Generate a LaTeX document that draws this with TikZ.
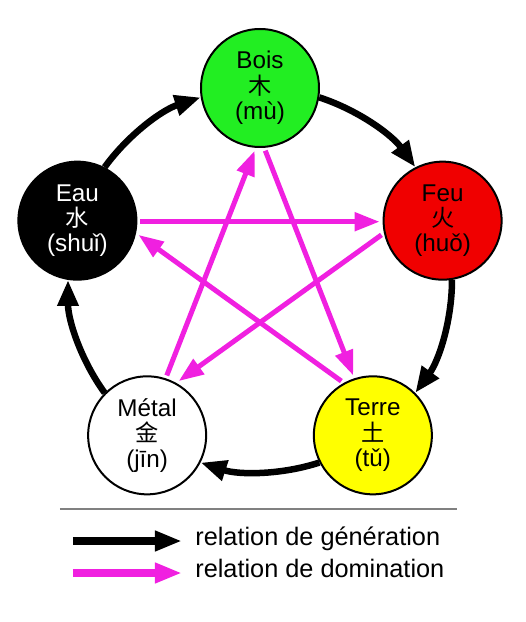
\documentclass[tikz,border=0pt]{standalone}
\usepackage{fontspec}
\setmainfont{Liberation Sans}
\newfontfamily\cjk{Noto Sans CJK SC}
\usetikzlibrary{arrows.meta}
\definecolor{colbois}{HTML}{22EE22}
\definecolor{colfeu}{HTML}{F00000}
\definecolor{colterre}{HTML}{FFFF00}
\definecolor{coldom}{HTML}{F020E0}
\newcommand{\hanzi}[1]{{\cjk\fontsize{13.2pt}{14.5pt}\selectfont #1}}

\begin{document}
\begin{tikzpicture}[
  font=\fontsize{13.8pt}{14.5pt}\selectfont,
  elem/.style={draw,circle,line width=0.04cm,minimum size=2.36cm,inner sep=0pt,align=center},
  gen/.style={line width=0.13cm,-{Triangle[length=0.52cm,width=0.4cm]}},
  dom/.style={coldom,line width=0.1cm,-{Triangle[length=0.5cm,width=0.36cm]},
    shorten <=0.06cm,shorten >=0.06cm},
  legtxt/.style={anchor=west,inner sep=0pt,text height=0.72em,text depth=0.21em,
    font=\fontsize{14.4pt}{16pt}\selectfont},
]
  \useasboundingbox (-5.20,-6.84) rectangle (5.32,5.60);
  % ---- les cinq elements ----
  \node[elem,fill=colbois]        (bois)  at (90:3.84)   {Bois\\\hanzi{木}\\(mù)};
  \node[elem,fill=colfeu]         (feu)   at (18:3.84)   {Feu\\\hanzi{火}\\(huǒ)};
  \node[elem,fill=colterre]       (terre) at (-54:3.84)  {Terre\\\hanzi{土}\\(tǔ)};
  \node[elem,fill=white]          (metal) at (-126:3.84) {Métal\\\hanzi{金}\\(jīn)};
  \node[elem,fill=black,text=white] (eau) at (162:3.84)  {Eau\\\hanzi{水}\\(shuǐ)};
  % ---- cycle de generation ----
  \draw[gen] (bois.-9)   to[out=-18,in=126,looseness=0.87]  (feu.117);
  \draw[gen] (feu.-81)   to[out=-90,in=54,looseness=0.87]   (terre.45);
  \draw[gen] (terre.-153) to[out=-162,in=-18,looseness=0.87] (metal.-27);
  \draw[gen] (metal.135) to[out=126,in=-90,looseness=0.87]  (eau.-99);
  \draw[gen] (eau.63)    to[out=54,in=198,looseness=0.87]   (bois.189);
  % ---- etoile de domination ----
  \draw[dom] (eau.-1)    -- (feu.181);
  \draw[dom] (feu.192)   -- (metal.61);
  \draw[dom] (metal.72)  -- (bois.266);
  \draw[dom] (bois.274)  -- (terre.108);
  \draw[dom] (terre.119) -- (eau.-12);
  % ---- legende ----
  \draw[gray,line width=0.03cm] (-4.00,-4.58) -- (3.94,-4.58);
  \coordinate (lggen) at (-3.74,-5.22);
  \coordinate (lgdom) at (-3.74,-5.86);
  \node[legtxt] (txtgen) at (-1.30,-5.22) {relation de génération};
  \node[legtxt] (txtdom) at (-1.30,-5.86) {relation de domination};
  \draw[gen,line width=0.16cm,shorten >=0.26cm,-{Triangle[length=0.54cm,width=0.38cm]}]
    (lggen) -- (txtgen.west);
  \draw[dom,line width=0.16cm,shorten <=0pt,shorten >=0.26cm,-{Triangle[length=0.54cm,width=0.38cm]}]
    (lgdom) -- (txtdom.west);
\end{tikzpicture}
\end{document}
